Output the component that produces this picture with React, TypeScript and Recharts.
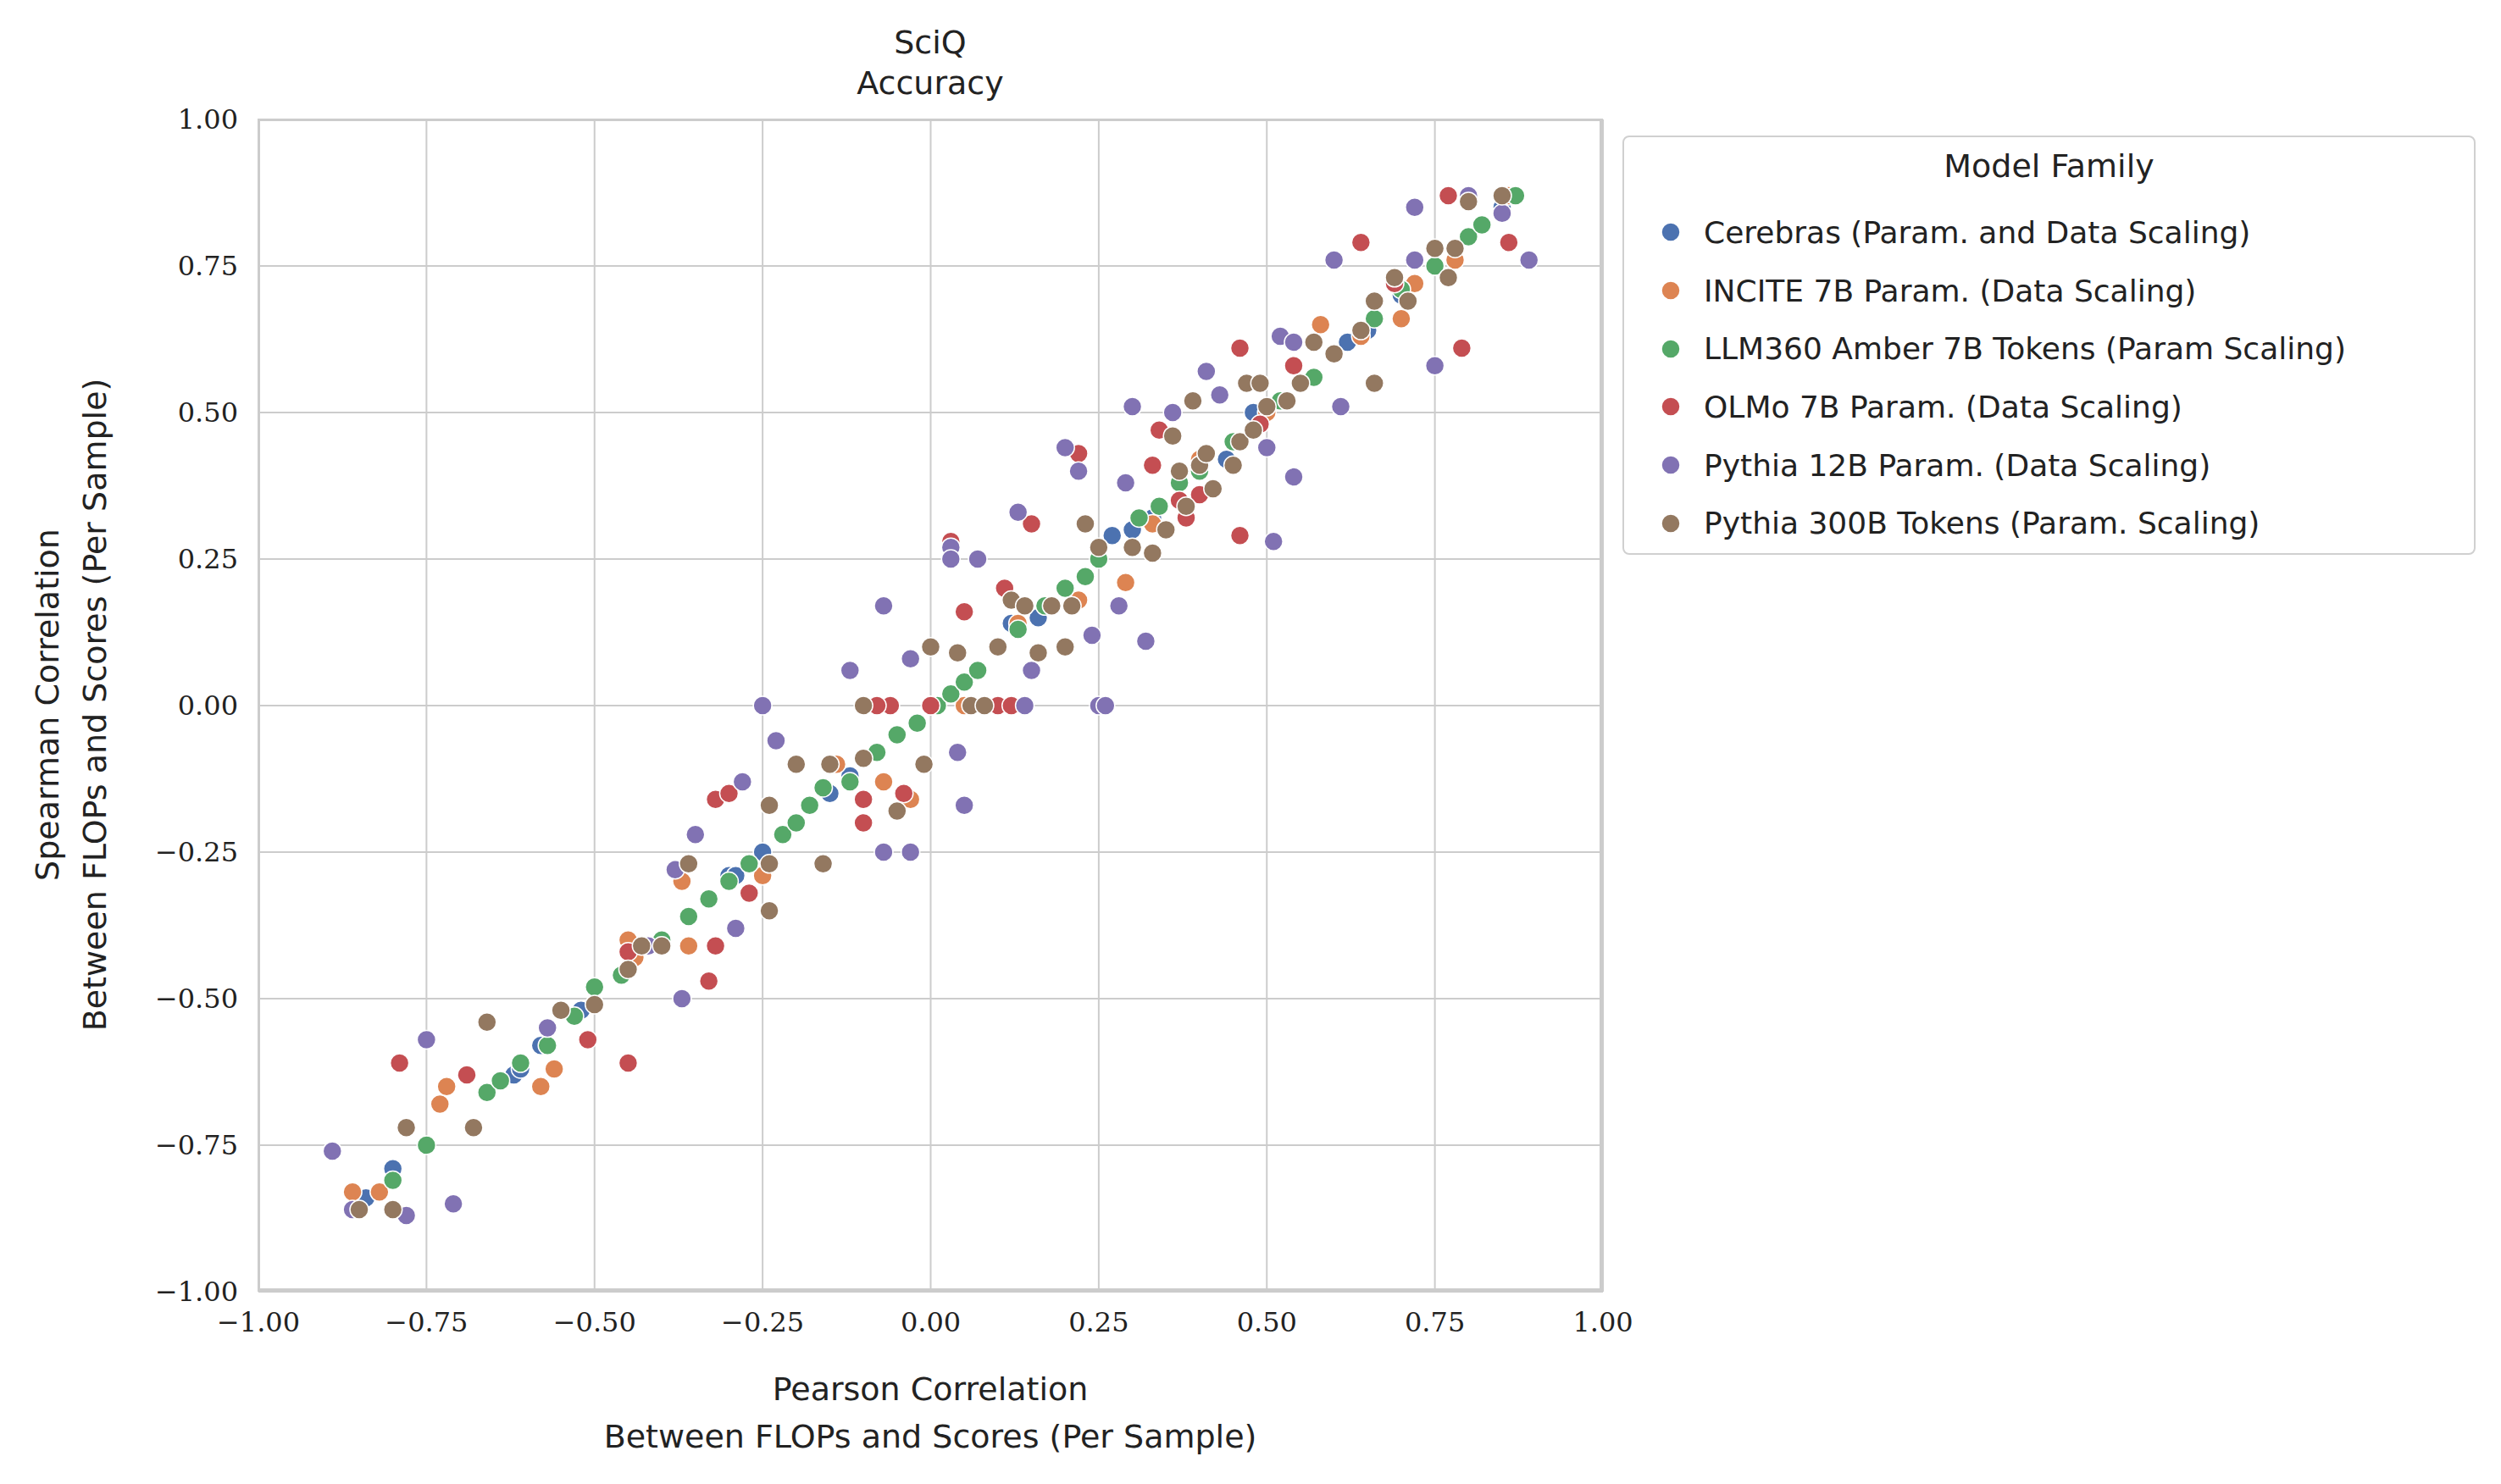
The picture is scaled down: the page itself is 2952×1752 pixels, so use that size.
import React from "react";
import { ScatterChart, Scatter, XAxis, YAxis, CartesianGrid } from "recharts";

type P = [number, number];

const cerebras: P[] = [[-0.8,-0.79],[-0.84,-0.84],[-0.62,-0.63],[-0.61,-0.62],[-0.58,-0.58],[-0.52,-0.52],[-0.45,-0.42],[-0.43,-0.41],[-0.4,-0.41],[-0.3,-0.29],[-0.29,-0.29],[-0.25,-0.25],[-0.2,-0.2],[-0.15,-0.15],[-0.12,-0.12],[0.12,0.14],[0.16,0.15],[0.27,0.29],[0.3,0.3],[0.33,0.32],[0.37,0.38],[0.4,0.4],[0.44,0.42],[0.48,0.5],[0.55,0.55],[0.62,0.62],[0.65,0.64],[0.7,0.7],[0.75,0.75],[0.8,0.8],[0.85,0.85]];
const incite: P[] = [[-0.86,-0.83],[-0.82,-0.83],[-0.73,-0.68],[-0.72,-0.65],[-0.56,-0.62],[-0.58,-0.65],[-0.45,-0.4],[-0.44,-0.43],[-0.36,-0.41],[-0.37,-0.3],[-0.25,-0.29],[-0.14,-0.1],[-0.07,-0.13],[-0.03,-0.16],[0,0],[0.05,0],[0.13,0.14],[0.22,0.18],[0.29,0.21],[0.33,0.31],[0.4,0.42],[0.5,0.5],[0.58,0.65],[0.64,0.63],[0.7,0.66],[0.72,0.72],[0.78,0.76],[0.86,0.87],[0.87,0.87]];
const llm360: P[] = [[-0.8,-0.81],[-0.75,-0.75],[-0.66,-0.66],[-0.64,-0.64],[-0.61,-0.61],[-0.57,-0.58],[-0.53,-0.53],[-0.5,-0.48],[-0.46,-0.46],[-0.4,-0.4],[-0.36,-0.36],[-0.33,-0.33],[-0.3,-0.3],[-0.27,-0.27],[-0.22,-0.22],[-0.2,-0.2],[-0.18,-0.17],[-0.16,-0.14],[-0.12,-0.13],[-0.08,-0.08],[-0.05,-0.05],[-0.02,-0.03],[0.01,0],[0.03,0.02],[0.05,0.04],[0.07,0.06],[0.1,0.1],[0.13,0.13],[0.17,0.17],[0.2,0.2],[0.23,0.22],[0.25,0.25],[0.31,0.32],[0.34,0.34],[0.37,0.38],[0.4,0.4],[0.45,0.45],[0.52,0.52],[0.57,0.56],[0.6,0.6],[0.66,0.66],[0.7,0.71],[0.75,0.75],[0.8,0.8],[0.82,0.82],[0.87,0.87]];
const olmo: P[] = [[-0.79,-0.61],[-0.69,-0.63],[-0.51,-0.57],[-0.45,-0.61],[-0.45,-0.42],[-0.33,-0.47],[-0.32,-0.41],[-0.32,-0.16],[-0.3,-0.15],[-0.27,-0.32],[-0.1,-0.2],[-0.1,-0.16],[-0.04,-0.15],[-0.06,0],[-0.08,0],[0,0],[0.05,0.16],[0.1,0],[0.12,0],[0.11,0.2],[0.15,0.31],[0.03,0.28],[0.22,0.43],[0.33,0.41],[0.34,0.47],[0.37,0.35],[0.38,0.32],[0.4,0.36],[0.46,0.61],[0.46,0.29],[0.49,0.48],[0.54,0.58],[0.64,0.79],[0.69,0.72],[0.77,0.87],[0.79,0.61],[0.86,0.79]];
const pythia12: P[] = [[-0.89,-0.76],[-0.86,-0.86],[-0.78,-0.87],[-0.75,-0.57],[-0.71,-0.85],[-0.57,-0.55],[-0.42,-0.41],[-0.38,-0.28],[-0.37,-0.5],[-0.35,-0.22],[-0.29,-0.38],[-0.28,-0.13],[-0.25,0],[-0.23,-0.06],[-0.12,0.06],[-0.07,0.17],[-0.07,-0.25],[-0.03,-0.25],[-0.03,0.08],[0.03,0.27],[0.03,0.25],[0.04,-0.08],[0.05,-0.17],[0.07,0.25],[0.13,0.33],[0.15,0.06],[0.14,0],[0.2,0.44],[0.22,0.4],[0.24,0.12],[0.25,0],[0.26,0],[0.28,0.17],[0.29,0.38],[0.3,0.51],[0.32,0.11],[0.36,0.5],[0.41,0.57],[0.43,0.53],[0.5,0.44],[0.51,0.28],[0.52,0.63],[0.54,0.39],[0.54,0.62],[0.6,0.76],[0.61,0.51],[0.72,0.85],[0.72,0.76],[0.75,0.58],[0.8,0.87],[0.89,0.76],[0.85,0.84]];
const pythia300: P[] = [[-0.85,-0.86],[-0.8,-0.86],[-0.78,-0.72],[-0.68,-0.72],[-0.66,-0.54],[-0.55,-0.52],[-0.5,-0.51],[-0.45,-0.45],[-0.43,-0.41],[-0.4,-0.41],[-0.36,-0.27],[-0.24,-0.35],[-0.24,-0.27],[-0.24,-0.17],[-0.2,-0.1],[-0.16,-0.27],[-0.15,-0.1],[-0.1,-0.09],[-0.1,0],[-0.05,-0.18],[-0.01,-0.1],[0,0.1],[0.04,0.09],[0.06,0],[0.08,0],[0.1,0.1],[0.12,0.18],[0.14,0.17],[0.16,0.09],[0.18,0.17],[0.2,0.1],[0.21,0.17],[0.23,0.31],[0.25,0.27],[0.3,0.27],[0.33,0.26],[0.35,0.3],[0.36,0.46],[0.37,0.4],[0.38,0.34],[0.39,0.52],[0.4,0.41],[0.41,0.43],[0.42,0.37],[0.45,0.41],[0.46,0.45],[0.47,0.55],[0.48,0.47],[0.49,0.55],[0.5,0.51],[0.53,0.52],[0.55,0.55],[0.57,0.62],[0.6,0.6],[0.64,0.64],[0.66,0.69],[0.66,0.55],[0.69,0.73],[0.71,0.69],[0.75,0.78],[0.77,0.73],[0.78,0.78],[0.8,0.86],[0.85,0.87]];

const families = [
  { name: "Cerebras (Param. and Data Scaling)", color: "#4C72B0", data: cerebras },
  { name: "INCITE 7B Param. (Data Scaling)", color: "#DD8452", data: incite },
  { name: "LLM360 Amber 7B Tokens (Param Scaling)", color: "#55A868", data: llm360 },
  { name: "OLMo 7B Param. (Data Scaling)", color: "#C44E52", data: olmo },
  { name: "Pythia 12B Param. (Data Scaling)", color: "#8172B3", data: pythia12 },
  { name: "Pythia 300B Tokens (Param. Scaling)", color: "#937860", data: pythia300 },
];

const ticks = [-1, -0.75, -0.5, -0.25, 0, 0.25, 0.5, 0.75, 1];
const fmt = (v: number) => (v < 0 ? "\u2212" : "") + Math.abs(v).toFixed(2);

const sans = "'DejaVu Sans', sans-serif";
const serif = "'DejaVu Serif', serif";
const tickStyle = { fontSize: 32, fill: "#222", fontFamily: serif };

const Dot = (props: any) => (
  <circle cx={props.cx} cy={props.cy} r={11} fill={props.fill} stroke="#fff" strokeWidth={1.5} />
);

export default function App() {
  const L = 305, R = 1892, T = 141, B = 1525;
  return (
    <div style={{ position: "absolute", left: 0, top: 0, width: 2952, height: 1752, background: "#fff" }}>
      <ScatterChart width={2952} height={1752} margin={{ left: 5, right: 2952 - R, top: T, bottom: 5 }}>
        <CartesianGrid stroke="#cccccc" strokeWidth={2} ticks={ticks as any} />
        <XAxis type="number" dataKey="x" domain={[-1, 1]} ticks={ticks} tickFormatter={fmt}
          height={1752 - B - 5} axisLine={false} tickLine={false} tick={tickStyle} tickMargin={18} />
        <YAxis type="number" dataKey="y" domain={[-1, 1]} ticks={ticks} tickFormatter={fmt}
          width={L - 5} axisLine={false} tickLine={false} tick={tickStyle} tickMargin={18} />
        {families.map((f) => (
          <Scatter key={f.name} name={f.name} data={f.data.map(([x, y]) => ({ x, y }))}
            fill={f.color} shape={Dot} isAnimationActive={false} />
        ))}
      </ScatterChart>
      <div style={{ position: "absolute", left: L, top: T, width: R - L, height: B - T, border: "3px solid #cccccc", boxSizing: "border-box", pointerEvents: "none", marginLeft: -1, marginTop: -1 }} />
      <div style={{ position: "absolute", left: 0, width: 2196, top: 26, textAlign: "center", fontFamily: sans, fontSize: 38, lineHeight: "48px", color: "#222" }}>
        SciQ<br />Accuracy
      </div>
      <div style={{ position: "absolute", left: 0, width: 2196, top: 1612, textAlign: "center", fontFamily: sans, fontSize: 38, lineHeight: "56px", color: "#222" }}>
        Pearson Correlation<br />Between FLOPs and Scores (Per Sample)
      </div>
      <div style={{ position: "absolute", left: 84 - 700, top: 832 - 56, width: 1400, textAlign: "center", transform: "rotate(-90deg)", fontFamily: sans, fontSize: 38, lineHeight: "56px", color: "#222" }}>
        Spearman Correlation<br />Between FLOPs and Scores (Per Sample)
      </div>
      <div style={{ position: "absolute", left: 1915, top: 160, width: 1007, height: 495, border: "2px solid #d0d0d0", borderRadius: 8, boxSizing: "border-box", fontFamily: sans, color: "#222" }}>
        <div style={{ textAlign: "center", fontSize: 38, marginTop: 12, height: 66 }}>Model Family</div>
        {families.map((f) => (
          <div key={f.name} style={{ display: "flex", alignItems: "center", height: 68.7, fontSize: 36 }}>
            <svg width={90} height={40}>
              <circle cx={55} cy={20} r={11} fill={f.color} stroke="#fff" strokeWidth={1.5} />
            </svg>
            <span style={{ marginLeft: 4 }}>{f.name}</span>
          </div>
        ))}
      </div>
    </div>
  );
}
